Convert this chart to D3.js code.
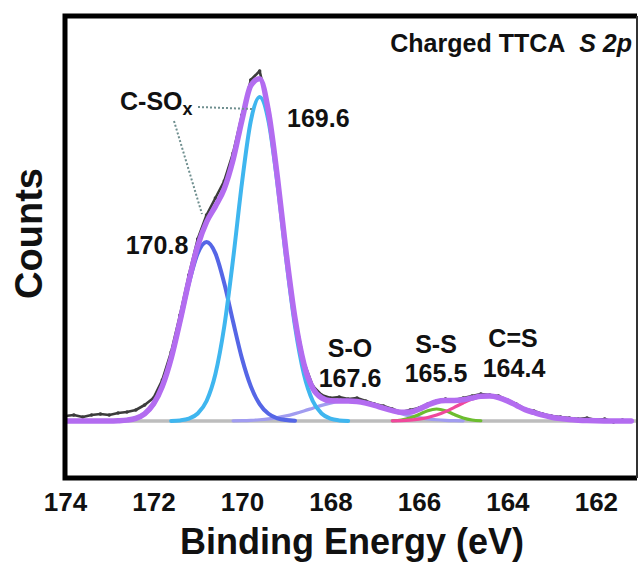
<!DOCTYPE html>
<html><head><meta charset="utf-8">
<script src="https://cdn.jsdelivr.net/npm/d3@7"></script>
<style>html,body{margin:0;padding:0;background:#fff;} svg{display:block;font-family:"Liberation Sans",Arial,sans-serif;}</style>
</head><body><svg id="c" width="639" height="562"></svg>
<script>
// Binding energy grid (eV)
const energies = [
  174.0,173.8,173.6,173.4,173.2,173.0,172.8,172.6,172.4,172.2,
  172.0,171.8,171.6,171.4,171.2,171.0,170.8,170.6,170.4,170.2,
  170.0,169.8,169.6,169.4,169.2,169.0,168.8,168.6,168.4,168.2,
  168.0,167.8,167.6,167.4,167.2,167.0,166.8,166.6,166.4,166.2,
  166.0,165.8,165.6,165.4,165.2,165.0,164.8,164.6,164.4,164.2,
  164.0,163.8,163.6,163.4,163.2,163.0,162.8,162.6,162.4,162.2,
  162.0,161.8,161.6,161.4,161.2];
// Raw counts (arbitrary units above background)
const rawCounts = [
  5,6,4,6,7,6,8,9,11,16,
  23,41,69,106,146,182,206,223,240,268,
  306,341,350,312,245,170,104,59,35,26,
  23,24,22,23,20,17,15,12,9,11,
  13,17,20,22,21,23,25,27,26,25,
  21,17,12,10,7,5,4,3,2,3,
  1,2,-1,1,0];
// C-SOx 169.6
const peak1696 = [
  0,0,0,0,0,0,0,0,0,0,
  0,0,.1,.6,2.3,7.5,20,47,94.5,162,
  238,300,324,300,238,162,94.5,47,20,7.5,
  2.3,.6,.1,0,0,0,0,0,0,0,
  0,0,0,0,0,0,0,0,0,0,
  0,0,0,0,0,0,0,0,0,0,
  0,0,0,0,0];
// C-SOx 170.8
const peak1708 = [
  0,0,0,0,0,0,.25,.9,2.7,7.2,
  16.9,34.7,62.6,99.2,137.7,167.6,179,167.6,137.7,99.2,
  62.6,34.7,16.9,7.2,2.7,.9,.25,0,0,0,
  0,0,0,0,0,0,0,0,0,0,
  0,0,0,0,0,0,0,0,0,0,
  0,0,0,0,0,0,0,0,0,0,
  0,0,0,0,0];
// S-O 167.6
const peak1676 = [
  0,0,0,0,0,0,0,0,0,0,
  0,0,0,0,0,0,0,0,.1,.2,
  .37,.7,1.25,2.1,3.4,5.1,7.4,10,12.8,15.6,
  17.9,19.5,20,19.5,17.9,15.6,12.8,10,7.4,5.1,
  3.4,2.1,1.25,.7,.37,.2,.1,0,0,0,
  0,0,0,0,0,0,0,0,0,0,
  0,0,0,0,0];
// S-S 165.5
const peak1655 = [
  0,0,0,0,0,0,0,0,0,0,
  0,0,0,0,0,0,0,0,0,0,
  0,0,0,0,0,0,0,0,0,0,
  0,0,0,0,0,0,0,.26,1.0,3.0,
  6.5,10.3,12,10.3,6.5,3.0,1.0,.26,0,0,
  0,0,0,0,0,0,0,0,0,0,
  0,0,0,0,0];
// C=S 164.4
const peak1644 = [
  0,0,0,0,0,0,0,0,0,0,
  0,0,0,0,0,0,0,0,0,0,
  0,0,0,0,0,0,0,0,0,0,
  0,0,0,0,0,0,0,.17,.4,.9,
  1.85,3.5,6.0,9.4,13.6,18.0,21.9,24.4,24.9,23.4,
  20.1,15.8,11.4,8.5,5.8,3.8,2.4,1.4,.8,.4,
  .2,.1,0,0,0];
// Fit envelope
const envelope = [
  0,0,0,0,0,0,.25,.9,2.7,7.2,
  16.9,34.7,62.7,99.8,140.0,175.1,199,214.6,232.3,261.4,
  301,335.4,342.2,309.3,244.1,168,102.2,57,32.8,23.1,
  20.2,20.1,20.1,19.5,17.9,15.6,12.8,10.4,8.8,9.0,
  11.75,15.9,19.25,20.4,20.5,21.2,23,24.7,24.9,23.4,
  20.1,15.8,11.4,8.5,5.8,3.8,2.4,1.4,.8,.4,
  .2,.1,0,0,0];
const xTicks = [174,172,170,168,166,164,162];
const peakNames = ["C-SO", "S-O", "S-S", "C=S"];
const peakValues = ["170.8", "169.6", "167.6", "165.5", "164.4"];
const titleMain = "Charged TTCA";
const titleSub = "S 2p";
const xTitle = "Binding Energy (eV)";
const yTitle = "Counts";

const svg = d3.select("#c");
const L = 65, R = 637, T = 16, B = 478;
const x = d3.scaleLinear().domain([174, 161.07]).range([L, R]);
const y = d3.scaleLinear().domain([0, 400]).range([421, 21]);

svg.append("defs").append("clipPath").attr("id","clip")
  .append("rect").attr("x",L).attr("y",T).attr("width",R-L).attr("height",B-T);
const plot = svg.append("g").attr("clip-path","url(#clip)");

// baseline
plot.append("line").attr("x1",x(174)).attr("x2",x(161.07)).attr("y1",y(0)).attr("y2",y(0))
  .attr("stroke","#bdbdbd").attr("stroke-width",3.5);

const line = d3.line().x((d,i)=>x(energies[i])).y(d=>y(d)).curve(d3.curveMonotoneX);
function comp(arr, color, w){
  const th = 0.3;
  const idx = arr.map((v,i)=>i).filter(i => arr[i] > th || (arr[i-1] > th && arr[i] > 0) || (arr[i+1] > th && arr[i] > 0));
  const lg = d3.line().x(i=>x(energies[i])).y(i=>y(arr[i])).curve(d3.curveMonotoneX);
  plot.append("path").attr("d", lg(idx)).attr("fill","none").attr("stroke",color)
    .attr("stroke-width",w).attr("stroke-linecap","round").attr("stroke-linejoin","round");
}
comp(peak1676, "#a19cf0", 3.2);
comp(peak1655, "#6cbd2f", 3.2);
comp(peak1644, "#f0489c", 3.2);
comp(peak1708, "#5566e6", 4);
comp(peak1696, "#3fb6ef", 4);

// raw data
const rawLine = d3.line().x((d,i)=>x(energies[i])).y(d=>y(d)).curve(d3.curveLinear);
plot.append("path").attr("d", rawLine(rawCounts)).attr("fill","none").attr("stroke","#3c3c3c")
  .attr("stroke-width",2.6).attr("stroke-linejoin","round");
plot.selectAll("circle.raw").data(rawCounts).enter().append("circle")
  .attr("cx",(d,i)=>x(energies[i])).attr("cy",d=>y(d)).attr("r",1.8).attr("fill","#3c3c3c");

// envelope
plot.append("path").attr("d", line(envelope)).attr("fill","none").attr("stroke","#b36cf0")
  .attr("stroke-width",5.5).attr("stroke-linecap","round").attr("stroke-linejoin","round");

// annotation dotted lines
const ann = svg.append("g").attr("stroke","#6f8f8f").attr("stroke-width",2).attr("stroke-dasharray","2,2").attr("fill","none");
ann.append("line").attr("x1",198).attr("y1",107).attr("x2",252).attr("y2",109);
ann.append("line").attr("x1",174).attr("y1",121).attr("x2",202).attr("y2",214);

// labels
const lab = svg.append("g").attr("font-weight","bold").attr("font-size",25).attr("fill","#111");
const t1 = lab.append("text").attr("x",120).attr("y",110);
t1.append("tspan").text(peakNames[0]);
t1.append("tspan").attr("font-size",18).attr("dy",5).text("x");
lab.append("text").attr("x",157).attr("y",254).attr("text-anchor","middle").text(peakValues[0]);
lab.append("text").attr("x",287).attr("y",127).text(peakValues[1]);
lab.append("text").attr("x",350).attr("y",357).attr("text-anchor","middle").text(peakNames[1]);
lab.append("text").attr("x",350).attr("y",387).attr("text-anchor","middle").text(peakValues[2]);
lab.append("text").attr("x",436).attr("y",353).attr("text-anchor","middle").text(peakNames[2]);
lab.append("text").attr("x",436).attr("y",382).attr("text-anchor","middle").text(peakValues[3]);
lab.append("text").attr("x",513).attr("y",347).attr("text-anchor","middle").text(peakNames[3]);
lab.append("text").attr("x",514).attr("y",377).attr("text-anchor","middle").text(peakValues[4]);

const tt = svg.append("text").attr("x",632).attr("y",52).attr("text-anchor","end")
  .attr("font-weight","bold").attr("font-size",25).attr("fill","#111").attr("xml:space","preserve");
tt.append("tspan").text(titleMain + "\u00a0\u00a0");
tt.append("tspan").attr("font-style","italic").text(titleSub);

// frame
const fr = svg.append("g").attr("stroke","#000").attr("fill","none");
fr.append("path").attr("d",`M${R},${T}H${L}V${B}H${R}`).attr("stroke-width",5);
fr.append("line").attr("x1",R).attr("x2",R).attr("y1",T).attr("y2",B).attr("stroke-width",2).attr("stroke","#333");

// x axis
const xAxis = d3.axisBottom(x).tickValues(xTicks).tickSize(0).tickPadding(0).tickFormat(d3.format("d"));
const gx = svg.append("g").attr("transform","translate(0,511)").call(xAxis);
gx.select(".domain").remove();
gx.selectAll("text").attr("y",0).attr("dy",0).attr("font-size",26).attr("font-weight","bold")
  .attr("fill","#111").attr("font-family","Liberation Sans, Arial, sans-serif");

svg.append("text").attr("x",(L+R)/2 + 1).attr("y",554).attr("text-anchor","middle")
  .attr("font-weight","bold").attr("font-size",36).attr("fill","#111").text(xTitle);
svg.append("text").attr("transform","translate(42,233.5) rotate(-90)").attr("text-anchor","middle")
  .attr("font-weight","bold").attr("font-size",38).attr("fill","#111").text(yTitle);
</script></body></html>
